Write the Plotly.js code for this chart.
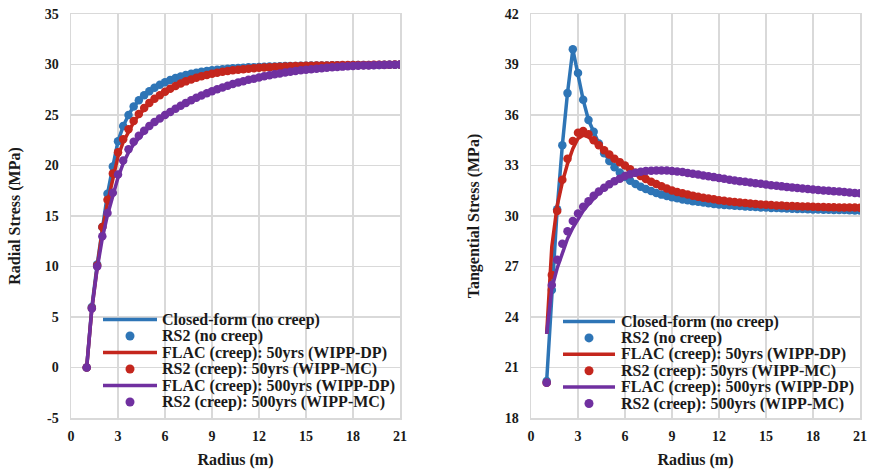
<!DOCTYPE html>
<html>
<head>
<meta charset="utf-8">
<script src="https://cdn.plot.ly/plotly-3.0.1.min.js"></script>
<style>html,body{margin:0;padding:0;background:#fff;}#chart{width:873px;height:472px;}</style>
</head>
<body>
<div id="chart"></div>
<script>
// ---------- DATA ----------
const radius = [1,1.33,1.67,2,2.33,2.67,3,3.33,3.67,4,4.33,4.67,5,5.33,5.67,6,6.33,6.67,7,7.33,7.67,8,8.33,8.67,9,9.33,9.67,10,10.33,10.67,11,11.33,11.67,12,12.33,12.67,13,13.33,13.67,14,14.33,14.67,15,15.33,15.67,16,16.33,16.67,17,17.33,17.67,18,18.33,18.67,19,19.33,19.67,20,20.33,20.67,21];

const seriesNames = [
  "Closed-form (no creep)",
  "RS2 (no creep)",
  "FLAC (creep): 50yrs (WIPP-DP)",
  "RS2 (creep): 50yrs (WIPP-MC)",
  "FLAC (creep): 500yrs (WIPP-DP)",
  "RS2 (creep): 500yrs (WIPP-MC)"
];

// Radial stress (MPa)
const radialClosedForm = [0,6.0,10.2,13.9,17.2,19.9,22.4,23.9,25.0,25.85,26.45,26.95,27.35,27.7,28.0,28.25,28.47,28.66,28.82,28.96,29.08,29.19,29.28,29.36,29.43,29.49,29.54,29.59,29.63,29.66,29.69,29.72,29.74,29.76,29.78,29.8,29.81,29.83,29.84,29.85,29.86,29.87,29.88,29.89,29.9,29.9,29.91,29.92,29.92,29.93,29.93,29.94,29.94,29.95,29.95,29.96,29.96,29.97,29.97,29.98,29.98];
const radialRS2NoCreep = [0,6.0,10.2,13.9,17.2,19.9,22.4,23.9,25.0,25.85,26.45,26.95,27.35,27.7,28.0,28.25,28.47,28.66,28.82,28.96,29.08,29.19,29.28,29.36,29.43,29.49,29.54,29.59,29.63,29.66,29.69,29.72,29.74,29.76,29.78,29.8,29.81,29.83,29.84,29.85,29.86,29.87,29.88,29.89,29.9,29.9,29.91,29.92,29.92,29.93,29.93,29.94,29.94,29.95,29.95,29.96,29.96,29.97,29.97,29.98,29.98];
const radialFLAC50 = [0,5.8,9.9,13.6,16.3,18.7,20.9,22.3,23.4,24.3,25.0,25.6,26.1,26.55,26.95,27.3,27.6,27.88,28.12,28.33,28.52,28.69,28.84,28.97,29.09,29.19,29.28,29.36,29.43,29.49,29.54,29.59,29.63,29.67,29.7,29.73,29.76,29.78,29.8,29.82,29.84,29.86,29.87,29.88,29.89,29.9,29.91,29.92,29.93,29.94,29.94,29.95,29.95,29.96,29.96,29.97,29.97,29.98,29.98,29.99,29.99];
const radialRS250 = [0,5.9,10.1,13.9,16.6,19.2,21.3,22.6,23.6,24.4,25.1,25.7,26.2,26.6,26.95,27.3,27.6,27.88,28.12,28.33,28.52,28.69,28.84,28.97,29.09,29.19,29.28,29.36,29.43,29.49,29.54,29.59,29.63,29.67,29.7,29.73,29.76,29.78,29.8,29.82,29.84,29.86,29.87,29.88,29.89,29.9,29.91,29.92,29.93,29.94,29.94,29.95,29.95,29.96,29.96,29.97,29.97,29.98,29.98,29.99,29.99];
const radialFLAC500 = [0,5.8,9.8,12.8,15.1,17.0,18.8,20.2,21.3,22.1,22.75,23.3,23.8,24.2,24.6,24.95,25.3,25.62,25.92,26.2,26.46,26.7,26.93,27.15,27.36,27.55,27.73,27.9,28.06,28.21,28.35,28.48,28.6,28.72,28.83,28.93,29.03,29.12,29.2,29.28,29.35,29.42,29.48,29.54,29.59,29.64,29.68,29.72,29.76,29.79,29.82,29.85,29.87,29.89,29.91,29.93,29.94,29.96,29.97,29.98,29.99];
const radialRS2500 = [0,5.85,10.0,13.0,15.3,17.3,19.1,20.5,21.6,22.35,22.95,23.45,23.9,24.3,24.65,25.0,25.3,25.62,25.92,26.2,26.46,26.7,26.93,27.15,27.36,27.55,27.73,27.9,28.06,28.21,28.35,28.48,28.6,28.72,28.83,28.93,29.03,29.12,29.2,29.28,29.35,29.42,29.48,29.54,29.59,29.64,29.68,29.72,29.76,29.79,29.82,29.85,29.87,29.89,29.91,29.93,29.94,29.96,29.97,29.98,29.99];

// Tangential stress (MPa)
const tangClosedForm = [20.2,25.6,30.4,34.2,37.3,39.9,38.5,36.9,35.7,35.0,34.31,33.73,33.27,32.9,32.58,32.32,32.1,31.9,31.74,31.6,31.48,31.37,31.27,31.19,31.11,31.05,30.98,30.93,30.88,30.84,30.8,30.76,30.72,30.69,30.66,30.64,30.61,30.59,30.57,30.55,30.53,30.51,30.5,30.48,30.47,30.46,30.44,30.43,30.42,30.41,30.4,30.39,30.38,30.37,30.37,30.36,30.35,30.35,30.34,30.33,30.33];
const tangRS2NoCreep = [20.2,25.6,30.4,34.2,37.3,39.9,38.5,36.9,35.7,35.0,34.31,33.73,33.27,32.9,32.58,32.32,32.1,31.9,31.74,31.6,31.48,31.37,31.27,31.19,31.11,31.05,30.98,30.93,30.88,30.84,30.8,30.76,30.72,30.69,30.66,30.64,30.61,30.59,30.57,30.55,30.53,30.51,30.5,30.48,30.47,30.46,30.44,30.43,30.42,30.41,30.4,30.39,30.38,30.37,30.37,30.36,30.35,30.35,30.34,30.33,30.33];
const tangFLAC50 = [23.0,28.2,30.6,32.0,33.1,34.0,34.6,34.8,34.7,34.4,34.15,33.9,33.65,33.4,33.2,33.0,32.78,32.57,32.38,32.2,32.04,31.9,31.77,31.64,31.52,31.43,31.35,31.28,31.21,31.15,31.09,31.04,30.99,30.94,30.9,30.86,30.83,30.8,30.77,30.74,30.72,30.69,30.67,30.65,30.63,30.62,30.6,30.59,30.58,30.57,30.56,30.55,30.54,30.53,30.52,30.52,30.51,30.51,30.5,30.5,30.49];
const tangRS250 = [20.1,26.5,30.3,32.15,33.4,34.45,34.95,35.05,34.85,34.5,34.2,33.9,33.65,33.4,33.2,33.0,32.78,32.57,32.38,32.2,32.04,31.9,31.77,31.64,31.52,31.43,31.35,31.28,31.21,31.15,31.09,31.04,30.99,30.94,30.9,30.86,30.83,30.8,30.77,30.74,30.72,30.69,30.67,30.65,30.63,30.62,30.6,30.59,30.58,30.57,30.56,30.55,30.54,30.53,30.52,30.52,30.51,30.51,30.5,30.5,30.49];
const tangFLAC500 = [23.0,25.7,26.9,27.85,28.65,29.3,29.85,30.3,30.7,31.05,31.35,31.6,31.82,32.02,32.2,32.36,32.48,32.57,32.63,32.67,32.69,32.7,32.7,32.7,32.68,32.65,32.61,32.56,32.51,32.46,32.41,32.36,32.31,32.26,32.21,32.16,32.11,32.07,32.03,31.99,31.95,31.91,31.87,31.83,31.8,31.76,31.73,31.7,31.67,31.64,31.61,31.58,31.55,31.52,31.5,31.47,31.45,31.42,31.4,31.37,31.35];
const tangRS2500 = [20.1,25.9,27.4,28.35,29.1,29.7,30.15,30.55,30.88,31.2,31.45,31.68,31.88,32.06,32.22,32.37,32.48,32.57,32.63,32.67,32.69,32.7,32.7,32.7,32.68,32.65,32.61,32.56,32.51,32.46,32.41,32.36,32.31,32.26,32.21,32.16,32.11,32.07,32.03,31.99,31.95,31.91,31.87,31.83,31.8,31.76,31.73,31.7,31.67,31.64,31.61,31.58,31.55,31.52,31.5,31.47,31.45,31.42,31.4,31.37,31.35];

const xTicks = [0,3,6,9,12,15,18,21];
const xTickText = ["0","3","6","9","12","15","18","21"];
const radialTicks = [-5,0,5,10,15,20,25,30,35];
const radialTickText = ["-5","0","5","10","15","20","25","30","35"];
const tangTicks = [18,21,24,27,30,33,36,39,42];
const tangTickText = ["18","21","24","27","30","33","36","39","42"];

// ---------- STYLE ----------
const W = 873, H = 472;
const colors = ["#2E75B6", "#2E75B6", "#C4261D", "#C4261D", "#7030A0", "#7030A0"];
const isLine = [true, false, true, false, true, false];
const FONT = "Liberation Serif";
const TXT = "#1a1a1a";
const GRID = "#d9d9d9";
const M = {l: 0, r: 0, t: 14, b: 54};
const plotH = H - M.t - M.b;
const bold = s => "<b>" + s + "</b>";

function makeTraces(xa, ya, arrays) {
  return arrays.map((arr, i) => {
    const t = {
      x: radius, y: arr, xaxis: xa, yaxis: ya, name: seriesNames[i],
      showlegend: false, hoverinfo: "x+y+name"
    };
    if (isLine[i]) {
      t.mode = "lines";
      t.line = {color: colors[i], width: 3.5};
    } else {
      t.mode = "markers";
      t.marker = {color: colors[i], size: 8.5};
    }
    return t;
  });
}

const traces = []
  .concat(makeTraces("x", "y", [radialClosedForm, radialRS2NoCreep, radialFLAC50, radialRS250, radialFLAC500, radialRS2500]))
  .concat(makeTraces("x2", "y2", [tangClosedForm, tangRS2NoCreep, tangFLAC50, tangRS250, tangFLAC500, tangRS2500]));

function xAxis(domain, anchor) {
  return {
    domain: domain, anchor: anchor, range: [0, 21], tickmode: "array",
    tickvals: xTicks, ticktext: xTickText.map(bold),
    showgrid: true, gridcolor: GRID, gridwidth: 1.5, zeroline: false,
    showline: true, linecolor: GRID, linewidth: 1.5, mirror: true,
    ticks: "outside", ticklen: 5, tickcolor: "rgba(0,0,0,0)",
    tickfont: {family: FONT, size: 14, color: TXT},
    title: {text: bold("Radius (m)"), standoff: 10, font: {family: FONT, size: 16, color: TXT}}
  };
}
function yAxis(range, ticks, tickText, title, anchor, standoff) {
  return {
    anchor: anchor, domain: [0, 1], range: range, tickmode: "array",
    tickvals: ticks, ticktext: tickText.map(bold),
    showgrid: true, gridcolor: GRID, gridwidth: 1.5,
    zeroline: true, zerolinecolor: GRID, zerolinewidth: 1.5,
    showline: true, linecolor: GRID, linewidth: 1.5, mirror: true,
    ticks: "outside", ticklen: 8, tickcolor: "rgba(0,0,0,0)",
    tickfont: {family: FONT, size: 14, color: TXT},
    title: {text: bold(title), standoff: standoff, font: {family: FONT, size: 16, color: TXT}}
  };
}

// custom legends (one inside each panel)
const legendSpecs = [
  {lineX0: 103, lineX1: 157, dotX: 130, textX: 160, y0: 319.5, dy: 16.5},
  {lineX0: 563, lineX1: 615, dotX: 589, textX: 619, y0: 321.5, dy: 16.4}
];
const shapes = [], annotations = [];
const px2x = p => p / W;
const py2y = p => (H - M.b - p) / plotH;
legendSpecs.forEach(spec => {
  seriesNames.forEach((name, i) => {
    const yy = py2y(spec.y0 + i * spec.dy);
    if (isLine[i]) {
      shapes.push({type: "line", xref: "paper", yref: "paper",
        x0: px2x(spec.lineX0), x1: px2x(spec.lineX1), y0: yy, y1: yy,
        line: {color: colors[i], width: 3.5}});
    } else {
      shapes.push({type: "circle", xref: "paper", yref: "paper",
        xsizemode: "pixel", ysizemode: "pixel",
        xanchor: px2x(spec.dotX), yanchor: yy, x0: -4.5, x1: 4.5, y0: -4.5, y1: 4.5,
        fillcolor: colors[i], line: {width: 0}});
    }
    annotations.push({xref: "paper", yref: "paper", x: px2x(spec.textX), y: yy,
      xanchor: "left", yanchor: "middle", showarrow: false, text: bold(name),
      font: {family: FONT, size: 16, color: TXT}});
  });
});

const layout = {
  width: W, height: H, margin: M,
  paper_bgcolor: "#fff", plot_bgcolor: "#fff",
  font: {family: FONT, color: TXT},
  showlegend: false,
  xaxis: xAxis([71 / W, 400 / W], "y"),
  yaxis: yAxis([-5, 35], radialTicks, radialTickText, "Radial Stress (MPa)", "x", 20),
  xaxis2: xAxis([531 / W, 860 / W], "y2"),
  yaxis2: yAxis([18, 42], tangTicks, tangTickText, "Tangential Stress (MPa)", "x2", 21),
  shapes: shapes, annotations: annotations
};

Plotly.newPlot("chart", traces, layout, {staticPlot: true, displayModeBar: false});
</script>
</body>
</html>
